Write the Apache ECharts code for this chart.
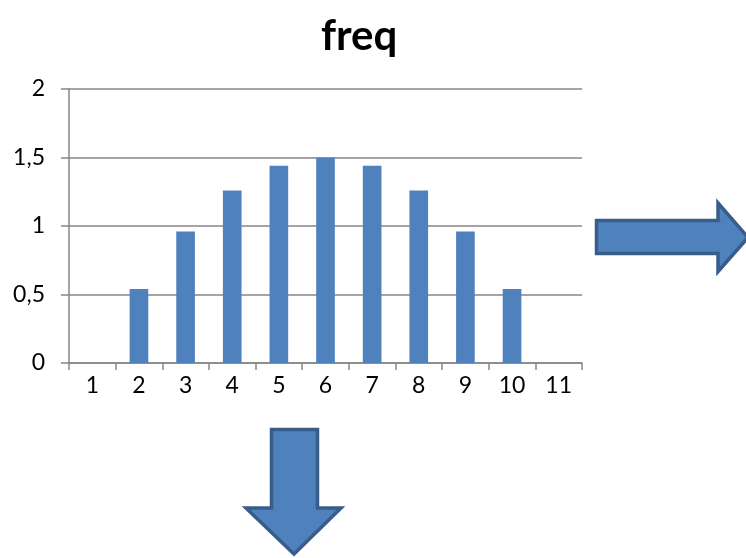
<!DOCTYPE html>
<html>
<head>
<meta charset="utf-8">
<script src="https://cdn.jsdelivr.net/npm/echarts@6/dist/echarts.min.js"></script>
<style>
  html, body { margin: 0; padding: 0; background: #fff; }
  #chart { width: 746px; height: 558px; }
</style>
</head>
<body>
<div id="chart"></div>
<script>
// Category labels along the x axis
const categories = ['1', '2', '3', '4', '5', '6', '7', '8', '9', '10', '11'];
// Frequency value for each category
const freqValues = [0, 0.54, 0.96, 1.26, 1.44, 1.5, 1.44, 1.26, 0.96, 0.54, 0];
// Value axis range and step
const yMin = 0;
const yMax = 2;
const yStep = 0.5;

const FONT = 'Lato, "Open Sans", sans-serif';
const GRID_GREY = '#868686';
const ARROW_FILL = '#4F81BD';
const ARROW_EDGE = '#385D8A';

const chart = echarts.init(document.getElementById('chart'), null, { renderer: 'canvas' });

chart.setOption({
  animation: false,
  backgroundColor: '#ffffff',
  title: {
    text: 'freq',
    left: 316,
    top: 10,
    textStyle: { fontFamily: FONT, fontWeight: 'bold', fontSize: 42, color: '#000' }
  },
  legend: {
    left: 630,
    top: 222,
    itemWidth: 10,
    itemHeight: 10,
    icon: 'rect',
    z: 1,
    textStyle: { fontFamily: FONT, fontSize: 23, color: '#000' },
    data: ['freq']
  },
  grid: { left: 69, right: 164, top: 89, bottom: 195, containLabel: false },
  xAxis: {
    type: 'category',
    data: categories,
    boundaryGap: true,
    axisLine: { lineStyle: { color: GRID_GREY, width: 1.5 } },
    axisTick: { show: true, interval: 0, length: 7, lineStyle: { color: GRID_GREY, width: 1.5 } },
    axisLabel: { interval: 0, margin: 11, fontFamily: FONT, fontSize: 23, color: '#000' }
  },
  yAxis: {
    type: 'value',
    min: yMin,
    max: yMax,
    interval: yStep,
    axisLine: { show: true, lineStyle: { color: GRID_GREY, width: 1.5 } },
    axisTick: { show: true, length: 8, lineStyle: { color: GRID_GREY, width: 1.5 } },
    splitLine: { show: true, lineStyle: { color: GRID_GREY, width: 1.5 } },
    axisLabel: {
      margin: 24,
      fontFamily: FONT,
      fontSize: 23,
      color: '#000',
      formatter: v => String(v).replace('.', ',')
    }
  },
  series: [{
    name: 'freq',
    type: 'bar',
    data: freqValues,
    barCategoryGap: '60%',
    z: 2,
    itemStyle: { color: '#4F81BD' }
  }],
  graphic: [
    {
      // arrow pointing right, beside the plot
      type: 'polygon',
      z: 100,
      shape: {
        points: [
          [596.5, 220.5], [718, 220.5], [718, 203], [748, 237.5],
          [718, 271.5], [718, 253.5], [596.5, 253.5]
        ]
      },
      style: { fill: ARROW_FILL, stroke: ARROW_EDGE, lineWidth: 3.5, lineJoin: 'miter' }
    },
    {
      // arrow pointing down, under the x axis
      type: 'polygon',
      z: 100,
      shape: {
        points: [
          [271.5, 429.5], [317.5, 429.5], [317.5, 508], [341, 508],
          [294, 554], [246, 508], [271.5, 508]
        ]
      },
      style: { fill: ARROW_FILL, stroke: ARROW_EDGE, lineWidth: 3.5, lineJoin: 'miter' }
    }
  ]
});
</script>
</body>
</html>
